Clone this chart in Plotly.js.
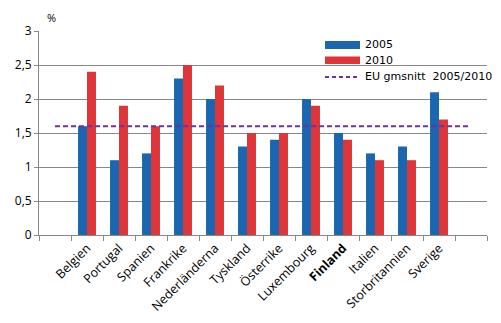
<!DOCTYPE html>
<html><head><meta charset="utf-8">
<script src="https://cdn.plot.ly/plotly-3.0.1.min.js"></script>
<style>html,body{margin:0;padding:0;background:#fff}</style>
</head><body>
<div id="chart" style="width:501px;height:323px"></div>
<script>
const categories = [" ", "Belgien", "Portugal", "Spanien", "Frankrike", "Nederländerna", "Tyskland", "Österrike", "Luxembourg", "Finland", "Italien", "Storbritannien", "Sverige", "  "];
const values2005 = [null, 1.6, 1.1, 1.2, 2.3, 2.0, 1.3, 1.4, 2.0, 1.5, 1.2, 1.3, 2.1, null];
const values2010 = [null, 2.4, 1.9, 1.6, 2.5, 2.2, 1.5, 1.5, 1.9, 1.4, 1.1, 1.1, 1.7, null];
const euAverage = [1.6, 1.6, 1.6, 1.6, 1.6, 1.6, 1.6, 1.6, 1.6, 1.6, 1.6, 1.6, 1.6, 1.6];
const tickLabels = ["", "Belgien", "Portugal", "Spanien", "Frankrike", "Nederländerna", "Tyskland", "Österrike", "Luxembourg", "<b>Finland</b>", "Italien", "Storbritannien", "Sverige", ""];
const seriesNames = ["2005", "2010", "EU gmsnitt  2005/2010"];
const colors = ["#1a67b0", "#dd3538", "#7030a0"];

const font = "Open Sans, DejaVu Sans, sans-serif";
const traces = [
  {type: "bar", name: seriesNames[0], x: categories, y: values2005, marker: {color: colors[0]}},
  {type: "bar", name: seriesNames[1], x: categories, y: values2010, marker: {color: colors[1]}},
  {type: "scatter", mode: "lines", name: seriesNames[2], x: categories, y: euAverage,
   line: {color: colors[2], width: 2, dash: "5px,3px"}}
];

// custom legend (paper coordinates)
const legX0 = 0.6384, legX1 = 0.7165, legTextX = 0.7232;
const legRows = [
  {y0: 0.912, y1: 0.951, yc: 0.933},
  {y0: 0.838, y1: 0.8755, yc: 0.855},
  {y0: 0.7745, y1: 0.7745, yc: 0.776}
];
const shapes = [
  {type: "rect", xref: "paper", yref: "paper", x0: 0.625, x1: 1, y0: 0.745, y1: 0.985,
   fillcolor: "#fff", line: {width: 0}, layer: "between"},
  {type: "rect", xref: "paper", yref: "paper", x0: legX0, x1: legX1, y0: legRows[0].y0, y1: legRows[0].y1,
   fillcolor: colors[0], line: {width: 0}},
  {type: "rect", xref: "paper", yref: "paper", x0: legX0, x1: legX1, y0: legRows[1].y0, y1: legRows[1].y1,
   fillcolor: colors[1], line: {width: 0}},
  {type: "line", xref: "paper", yref: "paper", x0: legX0, x1: legX1, y0: legRows[2].y0, y1: legRows[2].y1,
   line: {color: colors[2], width: 2, dash: "4px,3px"}}
];
const annotations = [
  {text: "%", xref: "paper", yref: "paper", x: 0.014, y: 1.0, yshift: 14,
   xanchor: "left", yanchor: "middle", showarrow: false, font: {family: font, size: 11, color: "#000"}}
];
seriesNames.forEach((n, i) => annotations.push({
  text: n, xref: "paper", yref: "paper", x: legTextX, y: legRows[i].yc, xanchor: "left", yanchor: "middle",
  showarrow: false, font: {family: "DejaVu Sans, sans-serif", size: 11, color: "#000"}
}));

const layout = {
  width: 501, height: 323,
  margin: {l: 39, r: 14, t: 31, b: 88},
  paper_bgcolor: "#fff", plot_bgcolor: "#fff",
  separators: ", ",
  barmode: "group", bargap: 0.44, bargroupgap: 0,
  showlegend: false,
  font: {family: font, size: 11, color: "#000"},
  xaxis: {type: "category", tickmode: "array", tickvals: categories, ticktext: tickLabels,
    tickson: "boundaries", ticks: "outside", ticklen: 5, tickcolor: "#888",
    showline: true, linecolor: "#888", linewidth: 1, showgrid: false,
    tickangle: -45, tickfont: {family: font, size: 12.5, color: "#000"}, fixedrange: true},
  yaxis: {range: [0, 3], dtick: 0.5, tick0: 0, ticks: "outside", ticklen: 4, tickcolor: "#888",
    showline: true, linecolor: "#888", gridcolor: "#888", gridwidth: 1, zeroline: false,
    tickfont: {family: font, size: 12, color: "#000"}, tickformat: ".1~f", fixedrange: true},
  shapes: shapes,
  annotations: annotations
};
Plotly.newPlot("chart", traces, layout, {displayModeBar: false, staticPlot: true});
</script>
</body></html>
